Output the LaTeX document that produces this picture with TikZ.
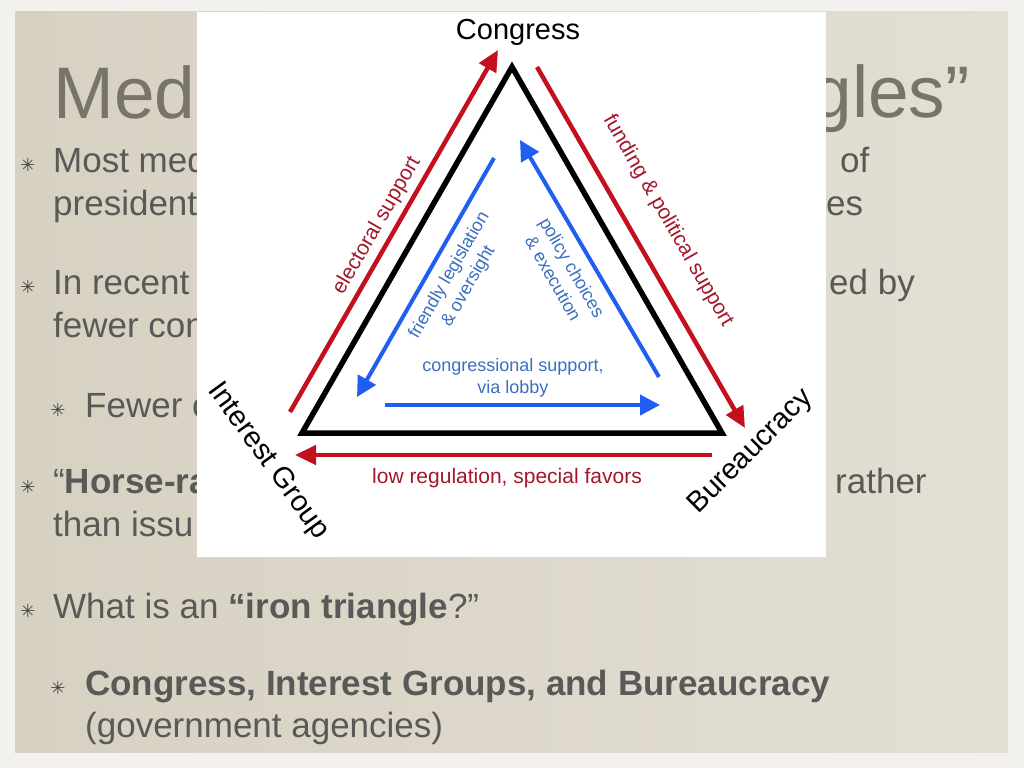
\documentclass[tikz,border=0pt]{standalone}
\usepackage{fontspec}
\setmainfont{Liberation Sans}
\newfontfamily\symfont{DejaVu Sans}
\usetikzlibrary{arrows.meta}
\definecolor{outerbg}{HTML}{F2F1EE}
\definecolor{paperA}{HTML}{D7D1C2}
\definecolor{paperB}{HTML}{E3DFD4}
\definecolor{bodytext}{HTML}{595957}
\definecolor{titletext}{HTML}{78746A}
\definecolor{arrowred}{HTML}{C4101C}
\definecolor{labelred}{HTML}{A3172A}
\definecolor{arrowblue}{HTML}{1F5EF0}
\definecolor{labelblue}{HTML}{3B6FBF}
\begin{document}
\begin{tikzpicture}[x=1pt,y=-1pt,
  body/.style={anchor=base west,text=bodytext,inner sep=0pt,font=\fontsize{35}{42}\selectfont},
  bul/.style={text=bodytext!80!black,inner sep=0pt,font=\symfont\fontsize{18}{18}\selectfont},
  titletxt/.style={anchor=base west,inner sep=0pt,text=titletext,font=\fontsize{73}{80}\selectfont},
  vertex/.style={text=black,inner sep=0pt,font=\fontsize{29}{32}\selectfont},
  redlbl/.style={text=labelred,inner sep=0pt,font=\fontsize{21}{24}\selectfont},
  bluelbl/.style={text=labelblue,inner sep=0pt,align=center,font=\fontsize{18}{22}\selectfont},
  redarrow/.style={draw=arrowred,line width=4.5pt,-{Triangle[length=21pt,width=19pt]}},
  bluearrow/.style={draw=arrowblue,line width=4pt,-{Triangle[length=20pt,width=20pt]}},
  side/.style={draw=black,line width=5.5pt,line join=miter}
]
\useasboundingbox (0,0) rectangle (1024,768);
% background and paper
\fill[outerbg] (0,0) rectangle (1024,768);
\shade[left color=paperA,right color=paperB] (15,12) rectangle (1008,752);

% title
\node[titletxt] (tmed) at (53,118) {Med};
\node[titletxt,anchor=base east] (tgles) at (970,117) {gles”};

% body text (left fragments, covered by the picture)
\node[bul] (b1) at (28,165) {✳};
\node[body] (l1) at (53,172) {Most med};
\node[body] (l2) at (53,215) {president};
\node[bul] (b2) at (28,287) {✳};
\node[body] (l3) at (53,294) {In recent};
\node[body] (l4) at (53,337) {fewer con};
\node[bul] (b3) at (58,410) {✳};
\node[body] (l5) at (85,417) {Fewer c};
\node[bul] (b4) at (28,487) {✳};
\node[body] (l6) at (53,493) {“\textbf{Horse-ra}};
\node[body] (l7) at (53,536) {than issu};
\node[bul] (b5) at (28,611) {✳};
\node[body] (l8) at (53,618) {What is an \textbf{“iron triangle}?”};
\node[bul] (b6) at (58,688) {✳};
\node[body] (l9) at (85,695) {\textbf{Congress, Interest Groups, and Bureaucracy}};
\node[body] (l10) at (85,737) {(government agencies)};
% right fragments
\node[body] (r1) at (840,172) {of};
\node[body] (r2) at (826,215) {es};
\node[body] (r3) at (829,294) {ed by};
\node[body] (r4) at (835,493) {rather};

% the pasted picture
\fill[white] (197,12) rectangle (826,557);

% triangle
\coordinate (C) at (512,67);
\coordinate (I) at (302,433);
\coordinate (B) at (722,433);
\draw[side] (C) -- (I) -- (B) -- cycle;

% arrows
\coordinate (rl1) at (290,412); \coordinate (rl2) at (498,50);
\coordinate (rr1) at (537,67);  \coordinate (rr2) at (745,428);
\coordinate (rb1) at (712,455); \coordinate (rb2) at (295,455);
\coordinate (bl1) at (494,158); \coordinate (bl2) at (357,397);
\coordinate (br1) at (659,377); \coordinate (br2) at (520,140);
\coordinate (bb1) at (385,405); \coordinate (bb2) at (660,405);
\draw[redarrow] (rl1) -- (rl2);
\draw[redarrow] (rr1) -- (rr2);
\draw[redarrow] (rb1) -- (rb2);
\draw[bluearrow] (bl1) -- (bl2);
\draw[bluearrow] (br1) -- (br2);
\draw[bluearrow] (bb1) -- (bb2);

% vertex labels
\node[vertex,anchor=base] (congress) at (518,40) {Congress};
\node[vertex,rotate=-54] (interest) at (268,461) {Interest Group};
\node[vertex,rotate=45] (bureau) at (751,452) {Bureaucracy};

% edge labels
\node[redlbl,rotate=60] (elect) at (377,226) {electoral support};
\node[redlbl,rotate=-60] (fund) at (668,221) {funding \& political support};
\node[redlbl,anchor=base] (lowreg) at (507,483) {low regulation, special favors};
\node[bluelbl,rotate=60] (friendly) at (459,281) {friendly legislation\\\& oversight};
\node[bluelbl,rotate=-60] (policy) at (563,273) {policy choices\\\& execution};
\node[bluelbl] (lobby) at (513,378) {congressional support,\\via lobby};
\end{tikzpicture}
\end{document}
